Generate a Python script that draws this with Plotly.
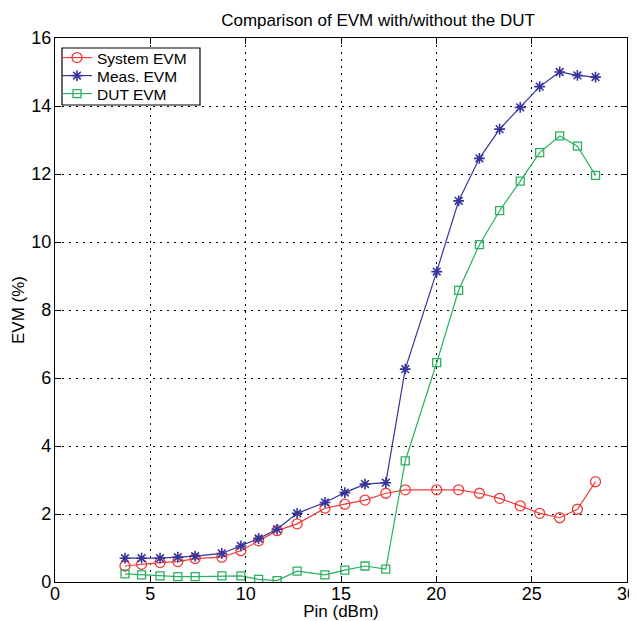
import plotly.graph_objects as go

pin = [3.67, 4.54, 5.51, 6.44, 7.35, 8.75, 9.75, 10.68, 11.65, 12.7, 14.16, 15.2,
       16.26, 17.35, 18.37, 20.02, 21.17, 22.26, 23.32, 24.4, 25.42, 26.47, 27.4, 28.35]
system_evm = [0.47, 0.52, 0.57, 0.60, 0.69, 0.73, 0.92, 1.21, 1.51, 1.71, 2.17, 2.29,
              2.41, 2.61, 2.71, 2.71, 2.71, 2.61, 2.46, 2.24, 2.02, 1.89, 2.14, 2.95]
meas_evm = [0.70, 0.70, 0.70, 0.73, 0.76, 0.84, 1.06, 1.28, 1.55, 2.02, 2.34, 2.63,
            2.88, 2.92, 6.26, 9.13, 11.21, 12.46, 13.32, 13.96, 14.57, 15.0, 14.9, 14.85]
dut_evm = [0.24, 0.21, 0.18, 0.16, 0.16, 0.18, 0.18, 0.08, 0.04, 0.32, 0.21, 0.35,
           0.47, 0.38, 3.56, 6.45, 8.58, 9.92, 10.92, 11.79, 12.63, 13.12, 12.82, 11.96]

x_ticks = [0, 5, 10, 15, 20, 25, 30]
y_ticks = [0, 2, 4, 6, 8, 10, 12, 14, 16]

FONT = "Liberation Sans, Arial, sans-serif"
OFF = 8  # page body margin
W, H = 637 - OFF, 621 - OFF
# plot area in window pixels: x 55..627, y 38..582
L, R, T, B = 55 - OFF, 637 - 627, 38 - OFF, 621 - 582
PW, PH = W - L - R, H - T - B


def px_x(p):  # window px -> paper fraction
    return (p - OFF - L) / PW


def px_y(p):
    return (H - B - (p - OFF)) / PH


fig = go.Figure()
fig.add_trace(go.Scatter(x=pin, y=system_evm, name="System EVM", mode="lines+markers",
                         legend="legend",
                         line=dict(color="#f23a3a", width=1.2),
                         marker=dict(symbol="circle-open", size=10, color="#f23a3a",
                                     line=dict(width=1.3))))
fig.add_trace(go.Scatter(x=pin, y=meas_evm, name="Meas. EVM", mode="lines+markers",
                         legend="legend2",
                         line=dict(color="#34349a", width=1.2),
                         marker=dict(symbol="asterisk-open", size=9, color="#34349a",
                                     line=dict(width=1.6, color="#34349a"))))
fig.add_trace(go.Scatter(x=pin, y=dut_evm, name="DUT EVM", mode="lines+markers",
                         legend="legend3",
                         line=dict(color="#2bb060", width=1.2),
                         marker=dict(symbol="square-open", size=8, color="#2bb060",
                                     line=dict(width=1.3))))

axis_common = dict(showline=True, linecolor="black", linewidth=1.2, mirror="ticks",
                   ticks="inside", ticklen=6, tickcolor="black", automargin=False,
                   showgrid=True, gridcolor="black", gridwidth=1, griddash="2px,5px",
                   zeroline=False, ticklabeloverflow="allow",
                   tickfont=dict(family=FONT, size=18, color="black"))

fig.update_xaxes(range=[0, 30], tickvals=x_ticks, ticktext=[str(v) for v in x_ticks],
                 ticklabelstandoff=-5,
                 title=dict(text="Pin (dBm)", font=dict(family=FONT, size=17, color="black"),
                            standoff=4), **axis_common)
fig.update_yaxes(range=[0, 16], tickvals=y_ticks, ticktext=[str(v) for v in y_ticks],
                 ticklabelstandoff=-1,
                 title=dict(text="EVM (%)", font=dict(family=FONT, size=17, color="black"),
                            standoff=2), **axis_common)

leg_common = dict(xanchor="left", yanchor="middle", bgcolor="rgba(0,0,0,0)",
                  borderwidth=0, font=dict(family=FONT, size=15.5, color="black"),
                  itemwidth=30)

fig.update_layout(
    width=W, height=H,
    margin=dict(l=L, r=R, t=T, b=B, autoexpand=False),
    paper_bgcolor="white", plot_bgcolor="white",
    font=dict(family=FONT, color="black"),
    title=dict(text="Comparison of EVM with/without the DUT", x=(378 - OFF) / W,
               xanchor="center", y=1 - (20 - OFF) / H, yanchor="middle",
               font=dict(family=FONT, size=17, color="black")),
    legend=dict(x=px_x(57), y=px_y(58), **leg_common),
    legend2=dict(x=px_x(57), y=px_y(76), **leg_common),
    legend3=dict(x=px_x(57), y=px_y(94), **leg_common),
    shapes=[dict(type="rect", xref="paper", yref="paper",
                 x0=px_x(62), x1=px_x(200), y0=px_y(105), y1=px_y(48),
                 line=dict(color="black", width=1.2), fillcolor="white", layer="above")],
    showlegend=True,
)

fig.write_html("out.html")
